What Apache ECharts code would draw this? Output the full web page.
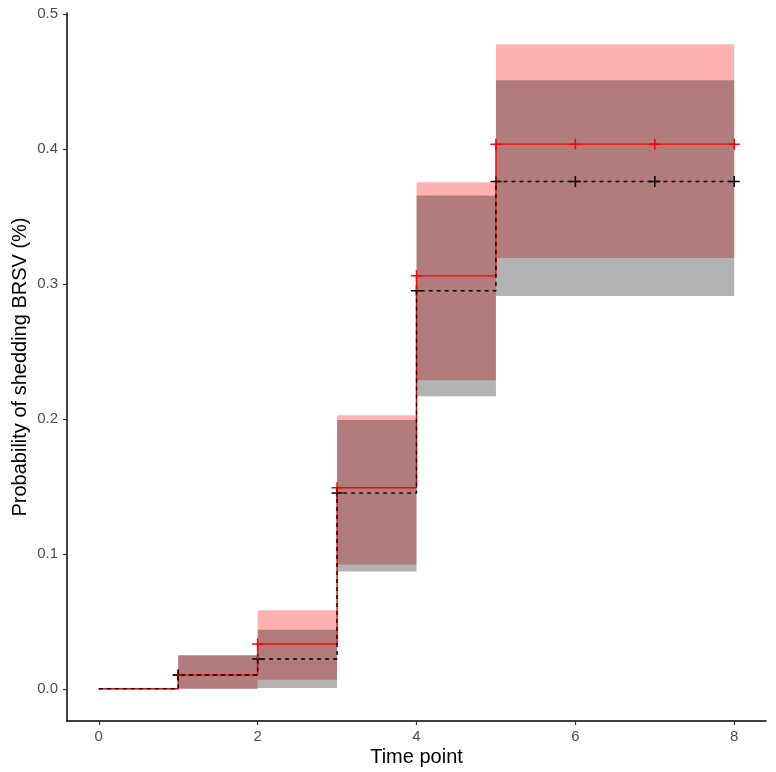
<!DOCTYPE html>
<html>
<head>
<meta charset="utf-8">
<script src="https://cdn.jsdelivr.net/npm/echarts@6/dist/echarts.min.js"></script>
<style>html,body{margin:0;padding:0;background:#fff}#c{width:776px;height:772px}</style>
</head>
<body>
<div id="c"></div>
<script>
var times = [0, 1, 2, 3, 4, 5, 6, 7, 8];
var redEst   = [0, 0.0102, 0.0332, 0.149, 0.306, 0.4036, 0.4036, 0.4036, 0.4036];
var redUpper = [0, 0.0245, 0.0581, 0.2027, 0.3754, 0.4776, 0.4776, 0.4776, 0.4776];
var redLower = [0, 0, 0.0067, 0.0921, 0.2287, 0.3192, 0.3192, 0.3192, 0.3192];
var blackEst   = [0, 0.0102, 0.022, 0.145, 0.295, 0.3759, 0.3759, 0.3759, 0.3759];
var blackUpper = [0, 0.025, 0.0438, 0.1992, 0.3655, 0.4509, 0.4509, 0.4509, 0.4509];
var blackLower = [0, 0, 0.0005, 0.0869, 0.2168, 0.291, 0.291, 0.291, 0.291];
var censorTimes = [1, 2, 3, 4, 5, 6, 7, 8];
var xTicks = [0, 2, 4, 6, 8];
var yTicks = [0, 0.1, 0.2, 0.3, 0.4, 0.5];

function bandData(lower, upper) {
  var d = [];
  for (var i = 0; i < times.length - 1; i++) {
    var last = d[d.length - 1];
    if (last && last[2] === lower[i] && last[3] === upper[i]) {
      last[1] = times[i + 1];
    } else {
      d.push([times[i], times[i + 1], lower[i], upper[i]]);
    }
  }
  return d;
}
function lineData(est) {
  return times.map(function (t, i) { return [t, est[i]]; });
}
function censorData(est) {
  return censorTimes.map(function (t) { return [t, est[times.indexOf(t)]]; });
}
function bandRender(color) {
  return function (params, api) {
    var p0 = api.coord([api.value(0), api.value(3)]);
    var p1 = api.coord([api.value(1), api.value(2)]);
    return {
      type: 'rect',
      shape: { x: p0[0], y: p0[1], width: p1[0] - p0[0], height: p1[1] - p0[1] },
      style: { fill: color }
    };
  };
}
var plus = 'path://M8.6,0H11.4V8.6H20V11.4H11.4V20H8.6V11.4H0V8.6H8.6Z';

var chart = echarts.init(document.getElementById('c'), null, { renderer: 'canvas' });
chart.setOption({
  animation: false,
  backgroundColor: '#fff',
  grid: { left: 67, right: 10, top: 13, bottom: 51, containLabel: false, outerBoundsMode: 'none' },
  xAxis: {
    type: 'value', min: -0.4, max: 8.4,
    name: 'Time point', nameLocation: 'middle', nameGap: 26, nameMoveOverlap: false,
    nameTextStyle: { fontFamily: 'Liberation Sans', fontSize: 20, color: '#000' },
    axisLine: { show: true, onZero: false, lineStyle: { color: '#000', width: 1.5 } },
    axisTick: { show: true, length: 4, customValues: xTicks, lineStyle: { color: '#333', width: 1.2 } },
    axisLabel: { customValues: xTicks, margin: 8, fontFamily: 'Liberation Sans', fontSize: 15, color: '#4d4d4d' },
    splitLine: { show: false }
  },
  yAxis: {
    type: 'value', min: -0.0239, max: 0.5008,
    name: 'Probability of shedding BRSV (%)', nameLocation: 'middle', nameGap: 37, nameMoveOverlap: false,
    nameTextStyle: { fontFamily: 'Liberation Sans', fontSize: 20, color: '#000' },
    axisLine: { show: true, onZero: false, lineStyle: { color: '#000', width: 1.5 } },
    axisTick: { show: true, length: 4, customValues: yTicks, lineStyle: { color: '#333', width: 1.2 } },
    axisLabel: { customValues: yTicks, margin: 9, fontFamily: 'Liberation Sans', fontSize: 15, color: '#4d4d4d',
      formatter: function (v) { return v.toFixed(1); } },
    splitLine: { show: false }
  },
  series: [
    { type: 'custom', name: 'redBand', renderItem: bandRender('rgba(255,0,0,0.3)'), data: bandData(redLower, redUpper), silent: true },
    { type: 'line', name: 'red', step: 'end', data: lineData(redEst), showSymbol: false,
      lineStyle: { color: '#ff0000', width: 1.4 }, silent: true },
    { type: 'custom', name: 'blackBand', renderItem: bandRender('rgba(0,0,0,0.3)'), data: bandData(blackLower, blackUpper), silent: true },
    { type: 'line', name: 'black', step: 'end', data: lineData(blackEst), showSymbol: false,
      lineStyle: { color: '#000', width: 1.4, type: [4, 4] }, silent: true },
    { type: 'scatter', name: 'redCensor', data: censorData(redEst), symbol: plus, symbolSize: 11,
      itemStyle: { color: '#ff0000', opacity: 1 }, silent: true },
    { type: 'scatter', name: 'blackCensor', data: censorData(blackEst), symbol: plus, symbolSize: 11,
      itemStyle: { color: '#000', opacity: 1 }, silent: true }
  ]
});
</script>
</body>
</html>
